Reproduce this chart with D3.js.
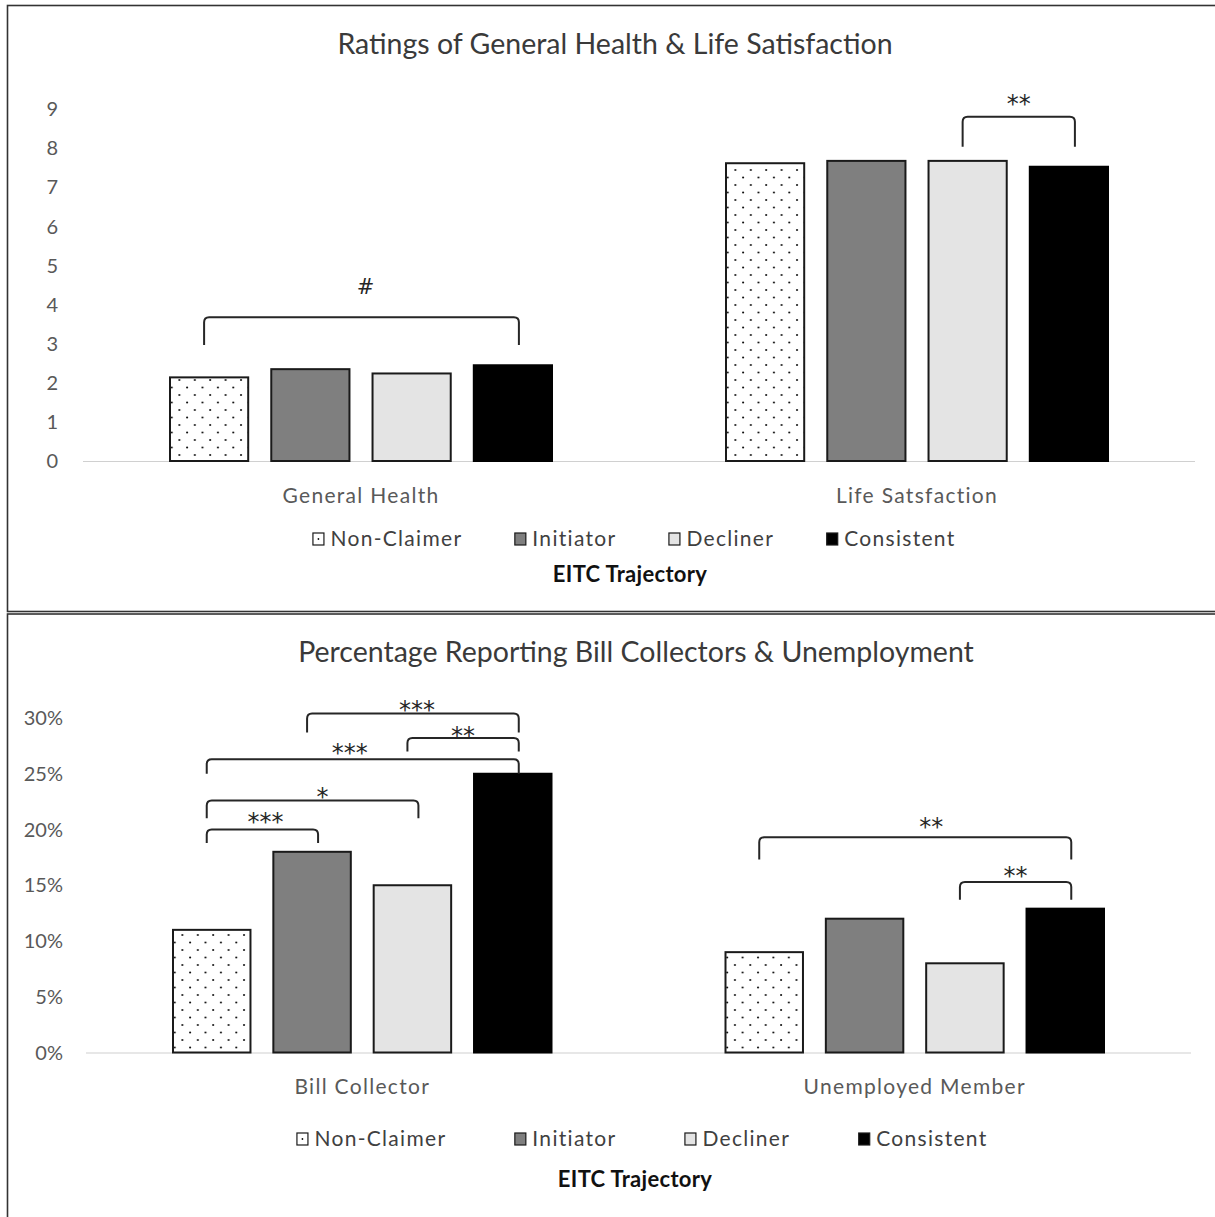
<!DOCTYPE html>
<html>
<head>
<meta charset="utf-8">
<script src="https://cdn.jsdelivr.net/npm/d3@7"></script>
<style>
  body { margin: 0; background: #fff; }
  svg { display: block; }
  text { font-family: Lato, "Open Sans", sans-serif; }
</style>
</head>
<body>
<div id="chart"></div>
<script>
// Series (EITC trajectory groups)
const series = ['Non-Claimer', 'Initiator', 'Decliner', 'Consistent'];

// Top panel: ratings
const healthCategories = ['General Health', 'Life Satsfaction'];
const healthValues = [
  [2.14, 2.35, 2.24, 2.45],
  [7.62, 7.68, 7.68, 7.53],
];
const healthTicks = [0, 1, 2, 3, 4, 5, 6, 7, 8, 9];
const healthBrackets = [
  { cat: 0, from: 0, to: 3, top: 3.68, leg: 2.97, label: '#', labelAt: 4.27, dx: 4 },
  { cat: 1, from: 2, to: 3, top: 8.81, leg: 8.04, label: '**', labelAt: 8.94, dx: 0 },
];

// Bottom panel: percentages
const billCategories = ['Bill Collector', 'Unemployed Member'];
const billValues = [
  [0.11, 0.18, 0.15, 0.25],
  [0.09, 0.12, 0.08, 0.129],
];
const billTicks = [0, 0.05, 0.1, 0.15, 0.2, 0.25, 0.3];
const billBrackets = [
  { cat: 0, from: 1, to: 3, top: 0.304, leg: 0.287, label: '***', labelAt: 0.2996, dx: 4 },
  { cat: 0, from: 2, to: 3, top: 0.282, leg: 0.27, label: '**', labelAt: 0.2765, dx: 0 },
  { cat: 0, from: 0, to: 3, top: 0.263, leg: 0.25, label: '***', labelAt: 0.261, dx: -13 },
  { cat: 0, from: 0, to: 2, top: 0.226, leg: 0.21, label: '*', labelAt: 0.2218, dx: 10 },
  { cat: 0, from: 0, to: 1, top: 0.2, leg: 0.188, label: '***', labelAt: 0.1994, dx: 3 },
  { cat: 1, from: 0, to: 3, top: 0.193, leg: 0.173, label: '**', labelAt: 0.1949, dx: 16 },
  { cat: 1, from: 2, to: 3, top: 0.153, leg: 0.137, label: '**', labelAt: 0.151, dx: 0 },
];

const fills = ['url(#dots)', '#7f7f7f', '#e4e4e4', '#000000'];
const strokes = ['#1a1a1a', '#1a1a1a', '#1a1a1a', '#000000'];

const width = 1215;
const height = 1217;

const svg = d3.select('#chart').append('svg').attr('width', width).attr('height', height);

// Dotted pattern for Non-Claimer
const defs = svg.append('defs');
const pat = defs
  .append('pattern')
  .attr('id', 'dots')
  .attr('patternUnits', 'userSpaceOnUse')
  .attr('width', 15.4)
  .attr('height', 15)
  .attr('x', 2)
  .attr('y', 3);
pat.append('rect').attr('width', 15.4).attr('height', 15).attr('fill', '#fff');
pat.append('circle').attr('cx', 2).attr('cy', 2).attr('r', 1.05).attr('fill', '#111');
pat.append('circle').attr('cx', 9.7).attr('cy', 9.5).attr('r', 1.05).attr('fill', '#111');

// Panel frames
svg.append('rect').attr('x', 7.5).attr('y', 5.5).attr('width', 1220).attr('height', 606).attr('fill', 'none').attr('stroke', '#333').attr('stroke-width', 1.6);
svg.append('rect').attr('x', 7.5).attr('y', 614).attr('width', 1220).attr('height', 620).attr('fill', 'none').attr('stroke', '#333').attr('stroke-width', 1.6);

function drawPanel(p) {
  const g = svg.append('g');

  const x0 = d3.scaleBand().domain(p.categories).range(p.xRange);
  const x1 = d3.scaleBand().domain(series).range([86, x0.bandwidth() - 86]).paddingInner(0.208);
  const y = d3.scaleLinear().domain(p.yDomain).range(p.yRange);

  // title
  g.append('text')
    .attr('x', p.titleX)
    .attr('y', p.titleY)
    .attr('text-anchor', 'middle')
    .attr('font-size', 28.5)
    .attr('fill', '#3a3a3a')
    .text(p.title);

  // y tick labels
  g.selectAll('.tick')
    .data(p.ticks)
    .join('text')
    .attr('x', p.tickX)
    .attr('y', (d) => y(d))
    .attr('dy', '0.35em')
    .attr('text-anchor', 'end')
    .attr('font-size', 20)
    .attr('fill', '#595959')
    .text(p.tickFormat);

  // baseline
  g.append('line')
    .attr('x1', p.xRange[0])
    .attr('x2', p.xRange[1])
    .attr('y1', y(0) + 0.5)
    .attr('y2', y(0) + 0.5)
    .attr('stroke', '#d0d0d0')
    .attr('stroke-width', 1.2);

  // bars
  const groups = g
    .selectAll('.grp')
    .data(p.values)
    .join('g')
    .attr('transform', (d, i) => `translate(${x0(p.categories[i])},0)`);

  groups
    .selectAll('rect')
    .data((d) => d.map((v, j) => ({ v, j })))
    .join('rect')
    .attr('x', (d) => x1(series[d.j]) + 1)
    .attr('width', x1.bandwidth() - 2)
    .attr('y', (d) => y(d.v))
    .attr('height', (d) => y(0) - y(d.v))
    .attr('fill', (d) => fills[d.j])
    .attr('stroke', (d) => strokes[d.j])
    .attr('stroke-width', 2);

  // category labels
  g.selectAll('.cat')
    .data(p.categories)
    .join('text')
    .attr('x', (d) => x0(d) + x0.bandwidth() / 2)
    .attr('y', p.catY)
    .attr('dy', '0.35em')
    .attr('text-anchor', 'middle')
    .attr('font-size', 21)
    .attr('letter-spacing', 1.3)
    .attr('fill', '#595959')
    .text((d) => d);

  // significance brackets
  const cx = (cat, s) => x0(p.categories[cat]) + x1(series[s]) + x1.bandwidth() / 2;
  const r = 5;
  p.brackets.forEach((b) => {
    const xa = cx(b.cat, b.from) - 5;
    const xb = cx(b.cat, b.to) + 6;
    const yt = y(b.top);
    const yl = y(b.leg);
    const path = `M${xa},${yl} L${xa},${yt + r} Q${xa},${yt} ${xa + r},${yt} L${xb - r},${yt} Q${xb},${yt} ${xb},${yt + r} L${xb},${yl}`;
    g.append('path').attr('d', path).attr('fill', 'none').attr('stroke', '#262626').attr('stroke-width', 2);
    g.append('text')
      .attr('x', (xa + xb) / 2 + b.dx)
      .attr('y', y(b.labelAt))
      .attr('text-anchor', 'middle')
      .style('font-family', '"DejaVu Sans", sans-serif')
      .attr('font-size', b.label === '#' ? 21 : 24)
      .attr('fill', '#262626')
      .text(b.label);
  });

  // legend
  const leg = g.append('g');
  let cursor = 0;
  series.forEach((s, j) => {
    const item = leg.append('g').attr('transform', `translate(${cursor},0)`);
    item.append('rect')
      .attr('x', 0.5)
      .attr('y', -6)
      .attr('width', 11)
      .attr('height', 12)
      .attr('fill', j === 0 ? '#fff' : fills[j])
      .attr('stroke', '#1a1a1a')
      .attr('stroke-width', 1.2);
    if (j === 0) item.append('circle').attr('cx', 6).attr('cy', 0).attr('r', 0.9).attr('fill', '#111');
    const t = item.append('text')
      .attr('x', 18)
      .attr('y', 0)
      .attr('dy', '0.35em')
      .attr('font-size', 21)
      .attr('letter-spacing', 1.3)
      .attr('fill', '#404040')
      .text(s);
    cursor += 18 + t.node().getComputedTextLength() + p.legendGap;
  });
  const legW = cursor - p.legendGap;
  leg.attr('transform', `translate(${p.legendCenter - legW / 2},${p.legendY})`);

  g.append('text')
    .attr('x', p.axisTitleX)
    .attr('y', p.axisTitleY)
    .attr('dy', '0.35em')
    .attr('text-anchor', 'middle')
    .attr('font-size', 22)
    .attr('letter-spacing', 0.3)
    .attr('font-weight', 'bold')
    .attr('fill', '#111')
    .text('EITC Trajectory');
}

drawPanel({
  title: 'Ratings of General Health & Life Satisfaction',
  titleX: 615,
  titleY: 54,
  categories: healthCategories,
  values: healthValues,
  ticks: healthTicks,
  tickFormat: (d) => d,
  tickX: 58,
  xRange: [83, 1195],
  yDomain: [0, 9],
  yRange: [461, 109.3],
  brackets: healthBrackets,
  catY: 496,
  legendY: 539,
  legendCenter: 634,
  legendGap: 52,
  axisTitleX: 630,
  axisTitleY: 574,
});

drawPanel({
  title: 'Percentage Reporting Bill Collectors & Unemployment',
  titleX: 636,
  titleY: 662,
  categories: billCategories,
  values: billValues,
  ticks: billTicks,
  tickFormat: d3.format('.0%'),
  tickX: 63,
  xRange: [86, 1191],
  yDomain: [0, 0.3],
  yRange: [1052.5, 718],
  brackets: billBrackets,
  catY: 1087,
  legendY: 1139,
  legendCenter: 642,
  legendGap: 68,
  axisTitleX: 635,
  axisTitleY: 1179,
});
</script>
</body>
</html>
